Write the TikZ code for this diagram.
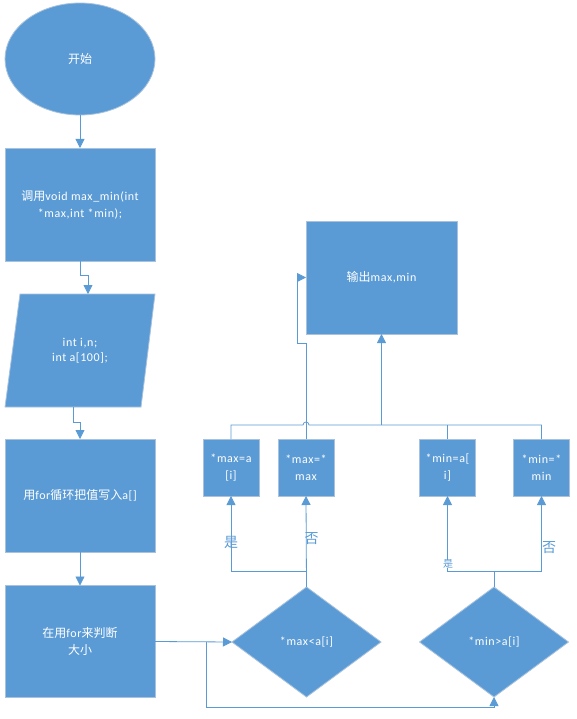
\documentclass[tikz,border=0pt]{standalone}
\usepackage{fontspec}
\setmainfont{Carlito}[LetterSpace=5]
\newfontfamily\cjk{Noto Sans CJK SC}
\usetikzlibrary{shapes.geometric,arrows.meta}
\definecolor{boxfill}{RGB}{91,155,213}
\definecolor{boxedge}{RGB}{168,194,222}
\definecolor{linec}{RGB}{91,155,213}
\begin{document}
\begin{tikzpicture}[x=1pt,y=-1pt,
  base/.style={fill=boxfill, draw=boxedge, line width=0.8pt, text=white,
    font=\fontsize{12}{17}\selectfont, align=center, inner sep=0pt, outer sep=0pt},
  bigbox/.style={base, rectangle, minimum width=150pt, minimum height=113pt},
  smallbox/.style={base, rectangle, minimum width=56pt, minimum height=57pt},
  dec/.style={base, diamond, minimum width=149pt, minimum height=110pt},
  conn/.style={draw=linec, line width=0.8pt},
  arr/.style={conn, -{Triangle[length=9pt,width=9pt]}},
  lbl/.style={text=linec, inner sep=0pt, font=\cjk\fontsize{14}{14}\selectfont},
]
\useasboundingbox (0,0) rectangle (576,719);
\fill[white] (0,0) rectangle (576,719);

% left column
\node[base, ellipse, minimum width=150pt, minimum height=112pt] (start) at (80,59) {{\cjk 开始}};
\node[bigbox] (b1) at (80,204.5) {{\cjk 调用}void max\_min(int\\*max,int *min);};
\draw[fill=boxfill, draw=boxedge, line width=0.8pt] (20,294) -- (155,294) -- (141,407) -- (5,407) -- cycle;
\node[text=white, font=\fontsize{12}{15}\selectfont, align=center, inner sep=0pt] (par) at (80,350.5) {int i,n;\\int a[100];};
\coordinate (partop) at (88,294);
\coordinate (parbot) at (73,407);
\node[bigbox] (b3) at (80,495.5) {{\cjk 用}for{\cjk 循环把值写入}a[]};
\node[bigbox, minimum height=112pt] (b4) at (80,641.5) {{\cjk 在用}for{\cjk 来判断}\\{\cjk 大小}};

% decisions
\node[dec] (d1) at (306.5,642) {*max<a[i]};
\node[dec] (d2) at (494,642) {*min>a[i]};

% small boxes
\node[smallbox] (mA) at (231,467.5) {*max=a\\[0pt][i]};
\node[smallbox] (mB) at (306,467.5) {*max=*\\max};
\node[smallbox] (mC) at (447.5,467.5) {*min=a[\\i]};
\node[smallbox] (mD) at (541.5,467.5) {*min=*\\min};

% output
\node[bigbox, minimum width=151pt] (out) at (381.5,277.5) {{\cjk 输出}max,min};

% connectors left column
\draw[arr] (start.south) -- (b1.north);
\draw[arr] (b1.south) -- ++(0,14) -| (partop);
\draw[arr] (parbot) -- ++(0,15) -| (b3.north);
\draw[arr] (b3.south) -- (b4.north);
\draw[arr] (b4.east) -- (d1.west);
\coordinate (br) at (206,642);
\draw[arr] (br) -- ++(0,65) -| (d2.south);

% decision branches
\draw[arr] (d1.north) -- (mB.south);
\draw[arr] (d1.north) ++(0,-16) -| (mA.south);
\draw[arr] (d2.north) ++(0,-16) -| (mC.south);
\draw[arr] (d2.north) ++(0,-16) -| (mD.south);
\draw[conn] (d2.north) -- ++(0,-16);

% top collector with hop
\coordinate (jA) at (231,425);
\coordinate (hop) at (303,425);
\coordinate (jD) at (541.5,425);
\draw[conn] (mA.north) -- (jA) -- (hop) arc[start angle=180, end angle=0, radius=3pt] -- (jD) -- (mD.north);
\draw[conn] (mC.north) -- (mC.north |- jA);
\draw[arr] (out.south |- jA) -- (out.south);
\draw[arr] (mB.north) -- ++(0,-96) -- ++(-9,0) |- (out.west);

% labels
\node[lbl] (lyA) at (231,542) {是};
\node[lbl] (lnB) at (311.5,539) {否};
\node[lbl, fill=white, font=\cjk\fontsize{10}{10}\selectfont] (lyC) at (448,564) {是};
\node[lbl] (lnD) at (549,548) {否};
\end{tikzpicture}
\end{document}
